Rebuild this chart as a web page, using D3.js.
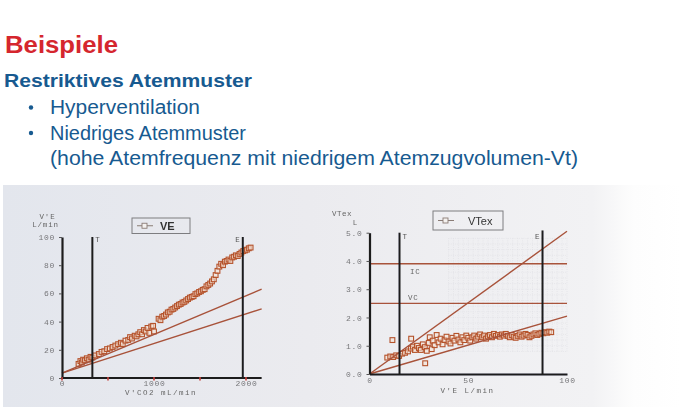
<!DOCTYPE html>
<html>
<head>
<meta charset="utf-8">
<script src="https://cdn.jsdelivr.net/npm/d3@7/dist/d3.min.js"></script>
<style>
  html, body { margin: 0; padding: 0; background: #ffffff; }
  svg { display: block; }
</style>
</head>
<body>
<svg id="slide" width="681" height="407"></svg>
<script>
// ---- Slide text ----
const slideTitle = "Beispiele";
const subTitle = "Restriktives Atemmuster";
const bulletLines = [
  { bullet: true,  text: "Hyperventilation" },
  { bullet: true,  text: "Niedriges Atemmuster" },
  { bullet: false, text: "(hohe Atemfrequenz mit niedrigem Atemzugvolumen-Vt)" }
];

// ---- Chart 1: V'E against V'CO2 ----
const veXTicks = [0, 1000, 2000];
const veXMinorTicks = [0, 500, 1000, 1500, 2000];
const veYTicks = [0, 20, 40, 60, 80, 100];
const veVCO2 = [180, 200, 215, 230, 250, 270, 290, 310, 330, 360, 400, 430, 460, 490, 520, 550, 580, 610, 640, 660,
  690, 720, 740, 760, 790, 810, 830, 850, 870, 890, 910, 930, 950, 970, 990, 1000,
  1050, 1070, 1090, 1110, 1130, 1150, 1170, 1190, 1210, 1230, 1250, 1270, 1290, 1310, 1330, 1350, 1370, 1390,
  1410, 1430, 1450, 1470, 1490, 1510, 1530, 1550, 1570, 1590, 1610, 1630, 1650, 1670, 1690, 1710, 1730, 1750,
  1770, 1790, 1810, 1830, 1850, 1870, 1890, 1910, 1930, 1950, 1970, 1990, 2010, 2030, 2050];
const veValues = [10, 12, 11, 13, 12.5, 14, 13, 15, 14.5, 16, 17, 18.5, 19, 20.5, 21, 22, 23, 24, 25, 24,
  26.5, 27, 29, 28, 30, 29.5, 31, 32.5, 31, 34, 33, 35.5, 32, 36.5, 37, 33,
  42, 41, 43.5, 44, 45, 46.5, 47, 48.5, 49, 50, 51, 52, 52.5, 53.5, 54, 55, 56, 57,
  57.5, 58, 59.5, 60, 61, 61.5, 62.5, 63, 65, 66, 67, 68.5, 70, 73, 76, 79, 81, 80,
  82.5, 83, 84, 83, 85.5, 86, 87, 86.5, 88, 89, 90, 90.5, 91, 92, 92.5];
const veRefLines = [[0, 3.5, 2170, 63], [0, 3.5, 2170, 49]];
const veThresholds = [{ label: "T", x: 330 }, { label: "E", x: 1965 }];

// ---- Chart 2: VTex against V'E ----
const vtXTicks = [0, 50, 100];
const vtYTicks = [0, 1, 2, 3, 4, 5];
const vtVE = [11.6, 21.1, 28.2,
  9, 10.5, 12, 13.5, 15, 16.5, 18, 19.5, 21, 22, 23, 24, 25, 26, 27, 28, 29, 30, 30.5, 31.5, 32, 33, 34, 35,
  36, 37, 38, 39, 40, 41, 42, 43, 44, 45, 46, 47, 48, 49, 50, 51, 52, 53, 54, 55, 56, 57, 58, 59, 60, 61, 62,
  63, 64, 65, 66, 67, 68, 69, 70, 71, 72, 73, 74, 75, 76, 77, 78, 79, 80, 81, 82, 83, 84, 85, 86, 87, 88, 89,
  90, 91, 92];
const vtValues = [1.2, 1.25, 0.38,
  0.58, 0.62, 0.6, 0.66, 0.64, 0.72, 0.75, 0.8, 0.9, 0.97, 0.85, 1.0, 0.92, 0.85, 1.05, 0.95, 0.82, 1.1, 1.3, 0.88, 1.18, 1.02, 1.38, 1.12,
  1.25, 1.05, 1.2, 1.32, 1.15, 1.08, 1.28, 1.18, 1.35, 1.22, 1.12, 1.3, 1.2, 1.36, 1.28, 1.18, 1.3, 1.36, 1.25, 1.32, 1.4, 1.3, 1.36, 1.25, 1.33, 1.38, 1.3,
  1.42, 1.35, 1.38, 1.32, 1.4, 1.36, 1.42, 1.35, 1.3, 1.38, 1.32, 1.28, 1.35, 1.4, 1.32, 1.36, 1.42, 1.38, 1.3, 1.35, 1.4, 1.44, 1.38, 1.42, 1.46, 1.44, 1.48,
  1.46, 1.5, 1.48];
const vtRefLines = [[0, 0, 100, 5.05], [0, 0, 100, 2.05]];
const vtLevels = [{ label: "IC", y: 3.9 }, { label: "VC", y: 2.5 }];
const vtThresholds = [{ label: "T", x: 15.2 }, { label: "E", x: 87.6 }];

// ---- Styling ----
const RED = "#d5262e";
const BLUE = "#175a90";
const SANS = "'Liberation Sans', Arial, sans-serif";
const MONO = "'Liberation Mono', 'Courier New', monospace";
const BROWN = "#a8523a";
const DOT = "#b5532c";
const INK = "#1d1d1f";
const GREY = "#77777a";

const svg = d3.select("#slide");
const defs = svg.append("defs");

const bg = defs.append("linearGradient").attr("id", "panelBg").attr("x1", 0).attr("x2", 1).attr("y1", 0).attr("y2", 0);
[[0, "#e3e6ed"], [0.45, "#ebebef"], [0.87, "#f2f2f4"], [0.93, "#fdfdfd"], [1, "#ffffff"]]
  .forEach(([o, c]) => bg.append("stop").attr("offset", o).attr("stop-color", c));

defs.append("filter").attr("id", "soft").attr("x", "-5%").attr("y", "-5%").attr("width", "110%").attr("height", "110%")
  .append("feGaussianBlur").attr("stdDeviation", 0.45);

// ---- Header text ----
svg.append("text").attr("x", 5).attr("y", 53)
  .attr("font-family", SANS).attr("font-weight", "bold").attr("font-size", 24.5)
  .attr("fill", RED).attr("textLength", 113).attr("lengthAdjust", "spacingAndGlyphs")
  .text(slideTitle);

svg.append("text").attr("x", 4).attr("y", 87)
  .attr("font-family", SANS).attr("font-weight", "bold").attr("font-size", 19)
  .attr("fill", BLUE).attr("textLength", 248).attr("lengthAdjust", "spacingAndGlyphs")
  .text(subTitle);

const lineWidths = [150, 196, 528];
bulletLines.forEach((b, i) => {
  const yb = 114 + i * 25.5;
  if (b.bullet) {
    svg.append("circle").attr("cx", 31).attr("cy", yb - 6.5).attr("r", 2.2).attr("fill", BLUE);
  }
  svg.append("text").attr("x", 50).attr("y", yb)
    .attr("font-family", SANS).attr("font-size", 19.5).attr("fill", BLUE)
    .attr("textLength", lineWidths[i]).attr("lengthAdjust", "spacingAndGlyphs")
    .text(b.text);
});

// ---- Picture panel ----
svg.append("rect").attr("x", 3).attr("y", 185).attr("width", 678).attr("height", 222).attr("fill", "url(#panelBg)");

function monoText(g, x, y, txt, size, anchor, fill, spacing) {
  return g.append("text").attr("x", x).attr("y", y)
    .attr("font-family", MONO).attr("font-size", size).attr("fill", fill || GREY)
    .attr("letter-spacing", spacing || 0)
    .attr("text-anchor", anchor || "start").text(txt);
}

function styleTicks(sel) {
  sel.selectAll(".tick text").attr("font-family", MONO).attr("font-size", 8)
    .attr("letter-spacing", 0.7).attr("fill", GREY);
}

function legendBox(g, x, y, w, h, label, textX, bold) {
  g.append("rect").attr("x", x).attr("y", y).attr("width", w).attr("height", h)
    .attr("fill", "none").attr("stroke", "#7d7d80").attr("stroke-width", 1);
  const cy = y + h / 2;
  g.append("line").attr("x1", x + 5).attr("x2", x + 21).attr("y1", cy).attr("y2", cy)
    .attr("stroke", "#8a7c76").attr("stroke-width", 1);
  g.append("rect").attr("x", x + 10).attr("y", cy - 2.5).attr("width", 5).attr("height", 5)
    .attr("fill", "#f4f1ef").attr("stroke", "#8a7c76").attr("stroke-width", 0.9);
  g.append("text").attr("x", textX).attr("y", cy + 4)
    .attr("font-family", SANS).attr("font-size", 11).attr("font-weight", bold ? "bold" : "normal")
    .attr("fill", "#333").text(label);
}

// ================= Chart 1 =================
const c1 = svg.append("g").attr("filter", "url(#soft)");
const x1 = d3.scaleLinear().domain([0, 2000]).range([62, 246]);
const y1 = d3.scaleLinear().domain([0, 100]).range([378, 237]);

// data points
c1.append("g").selectAll("rect").data(veVCO2.map((v, i) => [v, veValues[i]])).join("rect")
  .attr("x", d => x1(d[0]) - 2.4).attr("y", d => y1(d[1]) - 2.4)
  .attr("width", 4.8).attr("height", 4.8)
  .attr("fill", "rgba(245,226,214,0.6)").attr("stroke", DOT).attr("stroke-width", 1.1);

// reference lines
c1.append("g").selectAll("line").data(veRefLines).join("line")
  .attr("x1", d => x1(d[0])).attr("y1", d => y1(d[1]))
  .attr("x2", d => x1(d[2])).attr("y2", d => y1(d[3]))
  .attr("stroke", BROWN).attr("stroke-width", 1.4);

// threshold lines
veThresholds.forEach(t => {
  c1.append("line").attr("x1", x1(t.x)).attr("x2", x1(t.x)).attr("y1", y1(0)).attr("y2", y1(100))
    .attr("stroke", INK).attr("stroke-width", 2);
});
monoText(c1, x1(330) + 3, 242, "T", 7.5, "start", "#555");
monoText(c1, x1(1965) - 3, 242, "E", 7.5, "end", "#555");

// y axis
const ya1 = c1.append("g").attr("transform", `translate(${x1(0)},0)`)
  .call(d3.axisLeft(y1).tickValues(veYTicks).tickSize(3).tickSizeOuter(0).tickPadding(4).tickFormat(d3.format("d")));
ya1.select(".domain").attr("stroke", INK).attr("stroke-width", 2.2);
ya1.selectAll(".tick line").attr("stroke", "#555");
styleTicks(ya1);

// x axis
c1.append("line").attr("x1", x1(0) - 1).attr("x2", x1(2170)).attr("y1", y1(0)).attr("y2", y1(0))
  .attr("stroke", INK).attr("stroke-width", 2);
const xa1 = c1.append("g").attr("transform", `translate(0,${y1(0)})`)
  .call(d3.axisBottom(x1).tickValues(veXTicks).tickSize(0).tickPadding(2.5).tickFormat(d3.format("d")));
xa1.select(".domain").remove();
styleTicks(xa1);
c1.append("g").selectAll("line").data(veXMinorTicks).join("line")
  .attr("x1", d => x1(d)).attr("x2", d => x1(d)).attr("y1", y1(0) - 1).attr("y2", y1(0) + 2.5)
  .attr("stroke", "#c4413a").attr("stroke-width", 1.6);

monoText(c1, 47.5, 219, "V'E", 7.5, "middle", "#666", 0.8);
monoText(c1, 45.5, 226.5, "L/min", 7.5, "middle", "#666", 0.8);
monoText(c1, 161, 394.5, "V'CO2  mL/min", 7.5, "middle", "#666", 1.5);

legendBox(c1, 132, 218, 58, 15.5, "VE", 160, true);

// ================= Chart 2 =================
const c2 = svg.append("g").attr("filter", "url(#soft)");
const x2 = d3.scaleLinear().domain([0, 100]).range([369.5, 567]);
const y2 = d3.scaleLinear().domain([0, 5]).range([374, 232.7]);

// faint chart-paper grid
const gridX = d3.range(40, 100.1, 2.5);
const gridY = d3.range(0.8, 4.81, 0.2);
const grid = c2.append("g").attr("stroke", "#dedee3").attr("stroke-width", 0.6).attr("stroke-dasharray", "1,1.2");
grid.selectAll("line.gx").data(gridX).join("line").attr("class", "gx")
  .attr("x1", d => x2(d)).attr("x2", d => x2(d)).attr("y1", y2(0.8)).attr("y2", y2(4.8));
grid.selectAll("line.gy").data(gridY).join("line").attr("class", "gy")
  .attr("x1", x2(40)).attr("x2", x2(100)).attr("y1", d => y2(d)).attr("y2", d => y2(d));

// data points
c2.append("g").selectAll("rect").data(vtVE.map((v, i) => [v, vtValues[i]])).join("rect")
  .attr("x", d => x2(d[0]) - 2.4).attr("y", d => y2(d[1]) - 2.4)
  .attr("width", 4.8).attr("height", 4.8)
  .attr("fill", "rgba(245,226,214,0.6)").attr("stroke", DOT).attr("stroke-width", 1.1);

// IC / VC levels
vtLevels.forEach(l => {
  c2.append("line").attr("x1", x2(0)).attr("x2", x2(100)).attr("y1", y2(l.y)).attr("y2", y2(l.y))
    .attr("stroke", BROWN).attr("stroke-width", 1.4);
});
monoText(c2, 410, 274, "IC", 7.5, "start", "#666", 0.8);
monoText(c2, 408, 300, "VC", 7.5, "start", "#666", 0.8);

// diagonal reference lines
c2.append("g").selectAll("line").data(vtRefLines).join("line")
  .attr("x1", d => x2(d[0])).attr("y1", d => y2(d[1]))
  .attr("x2", d => x2(d[2])).attr("y2", d => y2(d[3]))
  .attr("stroke", BROWN).attr("stroke-width", 1.4);

// threshold lines
vtThresholds.forEach(t => {
  c2.append("line").attr("x1", x2(t.x)).attr("x2", x2(t.x)).attr("y1", y2(0)).attr("y2", y2(t.label === "E" ? 5.08 : 5))
    .attr("stroke", INK).attr("stroke-width", 2);
});
monoText(c2, x2(15.2) + 3, 239, "T", 7.5, "start", "#555");
monoText(c2, x2(87.6) - 3, 239, "E", 7.5, "end", "#555");

// y axis
const ya2 = c2.append("g").attr("transform", `translate(${x2(0)},0)`)
  .call(d3.axisLeft(y2).tickValues(vtYTicks).tickSize(3).tickSizeOuter(0).tickPadding(4).tickFormat(d3.format(".1f")));
ya2.select(".domain").attr("stroke", INK).attr("stroke-width", 2.2);
ya2.selectAll(".tick line").attr("stroke", "#555");
styleTicks(ya2);

// x axis
const xa2 = c2.append("g").attr("transform", `translate(0,${y2(0)})`)
  .call(d3.axisBottom(x2).tickValues(vtXTicks).tickSize(0).tickPadding(3).tickFormat(d3.format("d")));
xa2.select(".domain").attr("stroke", INK).attr("stroke-width", 2);
styleTicks(xa2);

monoText(c2, 352, 216, "VTex", 7.5, "end", "#666", 0.5);
monoText(c2, 355, 225, "L", 7.5, "middle", "#666");
monoText(c2, 467.5, 392.5, "V'E  L/min", 7.5, "middle", "#666", 1.5);

legendBox(c2, 433, 211, 70, 19, "VTex", 468, false);
</script>
</body>
</html>
